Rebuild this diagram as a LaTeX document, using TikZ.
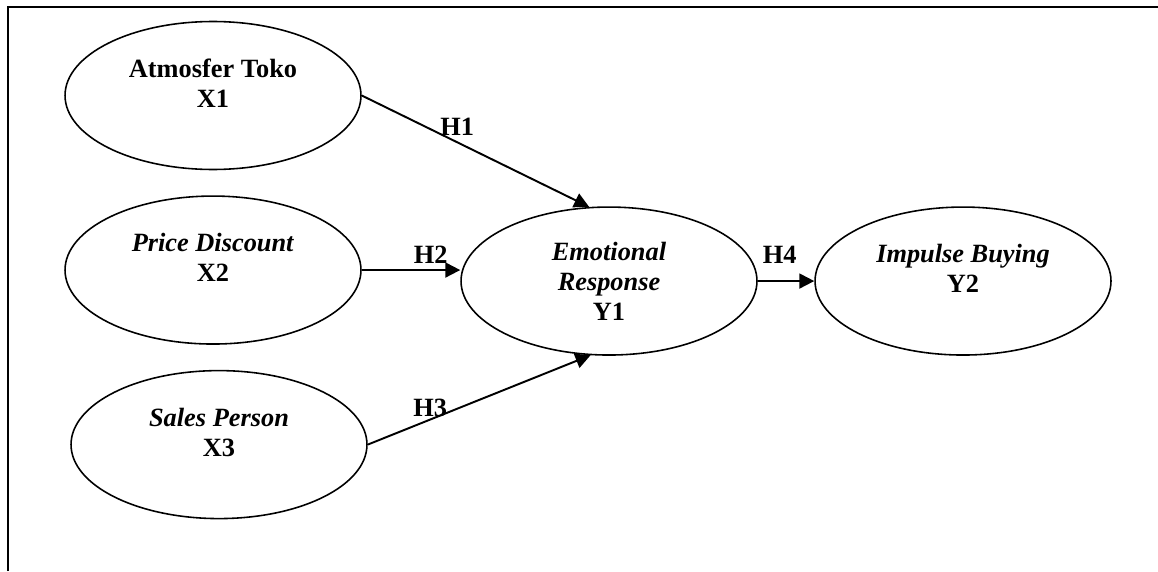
\documentclass[tikz,border=0pt]{standalone}
\usepackage{fontspec}
\setmainfont{Liberation Serif}
\usepackage{tikz}
\usetikzlibrary{arrows.meta,shapes,positioning}
\newcommand{\lift}{\\[-3pt]\mbox{}}

\begin{document}
\begin{tikzpicture}[x=0.02cm, y=-0.02cm]
\tikzstyle{construct}=[draw, line width=0.9pt, shape=ellipse, minimum width=5.92cm, minimum height=2.96cm, align=center, font=\fontsize{15}{17}\selectfont\bfseries]
\tikzstyle{hypo}=[line width=1.1pt, -{Triangle[length=0.3cm, width=0.3cm]}]
\tikzstyle{hlabel}=[font=\fontsize{15}{17}\selectfont\bfseries]
\useasboundingbox (0,0) rectangle (1158,571);
\draw[line width=0.9pt] (8,571) |- (1158,7);

\node[construct] (0) at (213,95.5) {Atmosfer Toko\\X1\lift};
\node[construct] (1) [below=0.5cm of 0]{\textit{Price Discount}\\X2\lift};
\node[construct] (2) [below=0.5cm of 1, xshift=0.12cm]{\textit{Sales Person}\\X3\lift};
\node[construct] (3) [right=1.97cm of 1, yshift=-0.22cm]{\textit{Emotional}\\\textit{Response}\\Y1};
\node[construct] (4) [right=1.13cm of 3]{\textit{Impulse Buying}\\Y2\lift};

\draw[hypo] (0.east) to node[hlabel, pos=0.42, above]{H1} (3.105);
\draw[hypo] (1.east) to node[hlabel, pos=0.7, above]{H2} (1.east -| 3.west);
\draw[hypo] (2.east) to node[hlabel, pos=0.28, above, inner sep=1pt]{H3} (3.256);
\draw[hypo] (3.east) to node[hlabel, pos=0.39, above=0.22cm]{H4} (4.west);
\end{tikzpicture}
\end{document}
